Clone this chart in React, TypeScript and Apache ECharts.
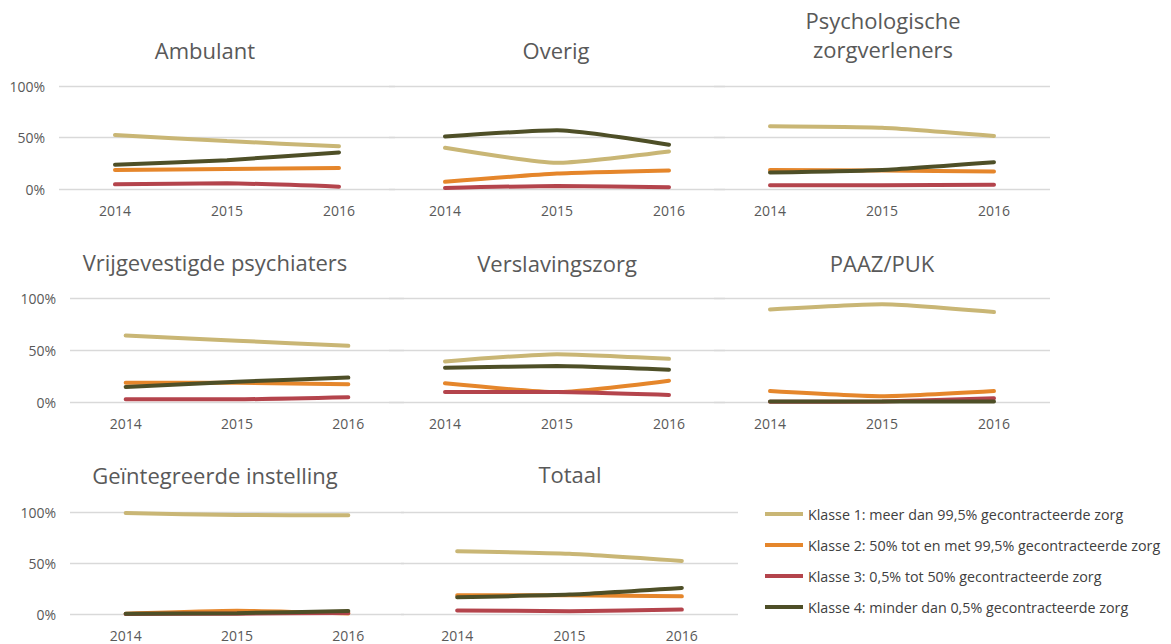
import React, { useEffect, useRef } from "react";
import * as echarts from "echarts";

const years = ["2014", "2015", "2016"];

const klasseNames = [
  "Klasse 1: meer dan 99,5% gecontracteerde zorg",
  "Klasse 2: 50% tot en met 99,5% gecontracteerde zorg",
  "Klasse 3: 0,5% tot 50% gecontracteerde zorg",
  "Klasse 4: minder dan 0,5% gecontracteerde zorg",
];
const klasseColors = ["#C9B675", "#E5862B", "#B4444C", "#4E4F27"];

const panelTitles = [
  "Ambulant",
  "Overig",
  "Psychologische\nzorgverleners",
  "Vrijgevestigde psychiaters",
  "Verslavingszorg",
  "PAAZ/PUK",
  "Geïntegreerde instelling",
  "Totaal",
];

// per panel: [Klasse 1, Klasse 2, Klasse 3, Klasse 4], values in % for 2014, 2015, 2016
const ambulant = [
  [52.5, 46.5, 41.5],
  [18.5, 19.5, 20.3],
  [4.5, 5.5, 2.3],
  [23.5, 28, 35.5],
];
const overig = [
  [40, 25.5, 36.5],
  [7, 15, 18],
  [1, 3, 1.8],
  [51, 57, 43],
];
const psychologische = [
  [61, 59.5, 51.5],
  [18.5, 18, 17],
  [3.7, 3.7, 4.2],
  [16, 18.5, 26],
];
const vrijgevestigde = [
  [64, 59, 54],
  [18.5, 18.5, 17],
  [2.6, 2.6, 4.5],
  [14.5, 19.5, 23.5],
];
const verslavingszorg = [
  [39, 46, 41.5],
  [18, 9.5, 20.5],
  [9.5, 9.5, 6.7],
  [33, 34.5, 31],
];
const paazPuk = [
  [89, 94, 86.5],
  [10.5, 5.5, 10.5],
  [0.2, 0.5, 3.5],
  [0.4, 0.4, 0.5],
];
const geintegreerde = [
  [99, 97, 96.8],
  [0.3, 3.2, 0.5],
  [0.1, 0.3, 1],
  [0.3, 0.8, 3],
];
const totaal = [
  [61.5, 59, 52],
  [18.5, 18.5, 17.3],
  [3.5, 2.8, 4.3],
  [16.5, 19, 25.5],
];

const panelData = [
  ambulant,
  overig,
  psychologische,
  vrijgevestigde,
  verslavingszorg,
  paazPuk,
  geintegreerde,
  totaal,
];

const yTicks = [0, 50, 100];

// layout
const gridRects = [
  { left: 59, top: 86, width: 336, height: 103 },
  { left: 389, top: 86, width: 336, height: 103 },
  { left: 714, top: 86, width: 336, height: 103 },
  { left: 70, top: 298, width: 334, height: 104 },
  { left: 389, top: 298, width: 336, height: 104 },
  { left: 714, top: 298, width: 336, height: 104 },
  { left: 70, top: 512, width: 334, height: 102 },
  { left: 401, top: 512, width: 337, height: 102 },
];
const titlePos = [
  { x: 205, y: 35 },
  { x: 556, y: 35 },
  { x: 883, y: 5 },
  { x: 215, y: 247 },
  { x: 557, y: 248 },
  { x: 882, y: 248 },
  { x: 215, y: 460 },
  { x: 570, y: 459 },
];
const showYLabels = [true, false, false, true, false, false, true, false];

const FONT = "'Open Sans', 'Noto Sans', sans-serif";
const TEXT = "#595959";

export default function App() {
  const ref = useRef<HTMLDivElement>(null);

  useEffect(() => {
    if (!ref.current) return;
    const chart = echarts.init(ref.current, null, { renderer: "svg" });

    const grid = gridRects.map((g) => ({ ...g, containLabel: false }));
    const xAxis = gridRects.map((_, i) => ({
      type: "category",
      gridIndex: i,
      data: years,
      boundaryGap: true,
      axisLine: { show: false },
      axisTick: { show: false },
      axisLabel: { color: TEXT, fontSize: 14, fontFamily: FONT, margin: 14 },
    }));
    const yAxis = gridRects.map((_, i) => ({
      type: "value",
      gridIndex: i,
      min: yTicks[0],
      max: yTicks[yTicks.length - 1],
      interval: yTicks[1] - yTicks[0],
      axisLine: { show: false },
      axisTick: { show: false },
      splitLine: { lineStyle: { color: "#D9D9D9", width: 1.3 } },
      axisLabel: {
        show: showYLabels[i],
        formatter: "{value}%",
        color: TEXT,
        fontSize: 14,
        fontFamily: FONT,
        margin: 14,
      },
    }));
    const series: any[] = [];
    panelData.forEach((panel, p) => {
      panel.forEach((vals, k) => {
        series.push({
          type: "line",
          name: klasseNames[k],
          xAxisIndex: p,
          yAxisIndex: p,
          data: vals,
          smooth: 0.18,
          symbol: "none",
          lineStyle: { color: klasseColors[k], width: 4, cap: "round" },
          itemStyle: { color: klasseColors[k] },
          z: 2 + k,
        });
      });
    });
    const title = panelTitles.map((t, i) => ({
      text: t,
      left: titlePos[i].x,
      top: titlePos[i].y,
      textAlign: "center",
      padding: 0,
      textStyle: {
        color: TEXT,
        fontSize: 22,
        fontWeight: "normal",
        fontFamily: FONT,
        lineHeight: 29,
      },
    }));

    chart.setOption({
      animation: false,
      backgroundColor: "#ffffff",
      title,
      grid,
      xAxis,
      yAxis,
      series,
      legend: {
        orient: "vertical",
        left: 760,
        top: 502,
        itemWidth: 38,
        itemHeight: 4,
        itemGap: 17,
        icon: "rect",
        data: klasseNames,
        textStyle: { color: "#404040", fontSize: 14.3, fontFamily: FONT },
      },
    });
    return () => chart.dispose();
  }, []);

  return (
    <div
      ref={ref}
      style={{ position: "absolute", left: 0, top: 0, width: 1171, height: 644 }}
    />
  );
}
